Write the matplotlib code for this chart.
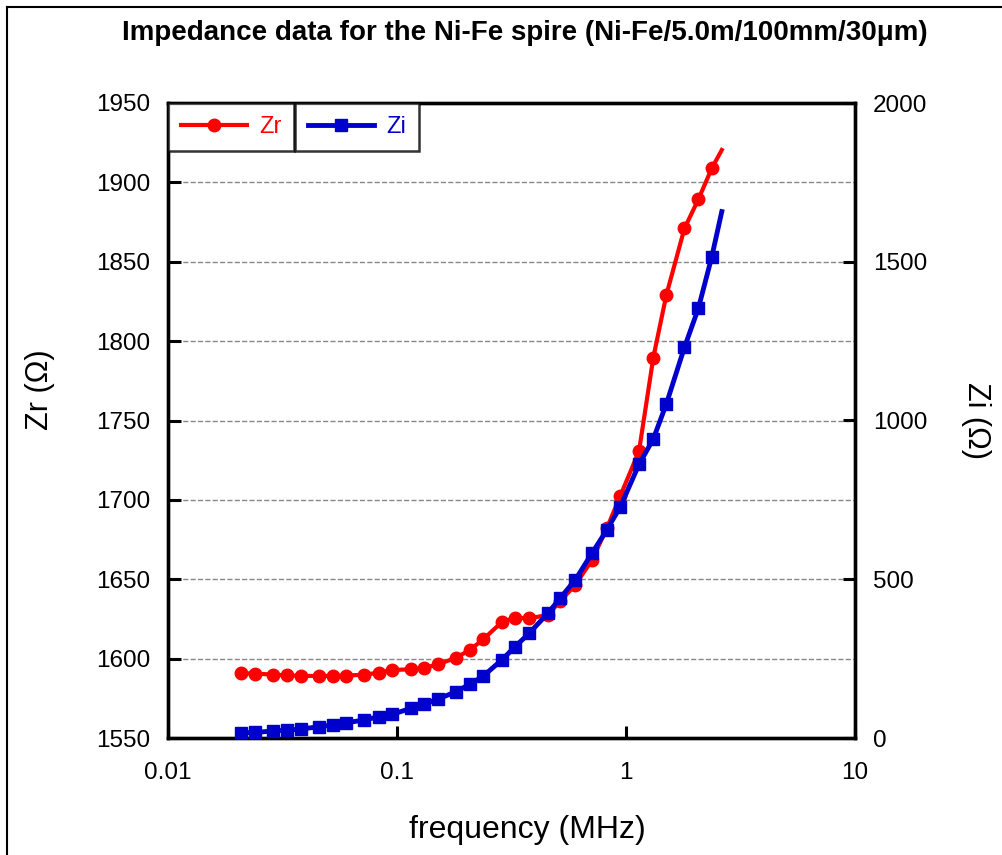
import matplotlib
matplotlib.use('Agg')
import matplotlib.pyplot as plt
from matplotlib.lines import Line2D
from matplotlib.ticker import FixedLocator, NullLocator, FixedFormatter

plt.rcParams['font.family'] = ['Liberation Sans', 'DejaVu Sans']

# frequency (MHz), last point is the curve end (no marker)
freq = [0.0208, 0.024, 0.0288, 0.0332, 0.038, 0.0456, 0.0527, 0.06, 0.072, 0.0832,
        0.0954, 0.115, 0.131, 0.1515, 0.181, 0.208, 0.238, 0.287, 0.328, 0.378,
        0.456, 0.515, 0.6, 0.71, 0.824, 0.945, 1.14, 1.316, 1.5, 1.8,
        2.07, 2.37, 2.62]
zr = [1590.8, 1590.6, 1589.9, 1589.5, 1589.1, 1589.1, 1589.1, 1589.3, 1589.9, 1591.1,
      1592.8, 1593.3, 1594.1, 1596.4, 1600.6, 1605.4, 1612.2, 1623.0, 1625.8, 1625.4,
      1627.5, 1636.0, 1646.4, 1662.0, 1682.0, 1702.6, 1730.8, 1789.6, 1829.0, 1871.0,
      1889.3, 1908.9, 1920.4]
zi = [16.7, 17.5, 22, 25, 28, 35.6, 41, 48, 56.7, 67,
      74.6, 93.5, 106, 123, 146, 169, 195, 246, 288, 330,
      393, 440, 497.6, 581.7, 655, 728.6, 862, 941.7, 1052, 1230.5,
      1353, 1516, 1658]

zr_ticks = [1550, 1600, 1650, 1700, 1750, 1800, 1850, 1900, 1950]
zi_ticks = [0, 500, 1000, 1500, 2000]
x_ticks = [0.01, 0.1, 1, 10]
x_labels = ['0.01', '0.1', '1', '10']

fig = plt.figure(figsize=(10.02, 8.55), dpi=100)
ax = fig.add_axes([168/1002, 1-738/855, (855-168)/1002, (738-103)/855])
ax2 = ax.twinx()

nmark = list(range(len(freq) - 1))
ax.plot(freq, zr, color='#ff0000', lw=3, marker='o', ms=9, markevery=nmark, zorder=3)
ax2.plot(freq, zi, color='#0000cc', lw=3.5, marker='s', ms=8.5, markevery=nmark, zorder=3)

ax.set_xscale('log')
ax.set_xlim(0.01, 10)
ax.set_ylim(1550, 1950)
ax2.set_ylim(0, 2000)

ax.xaxis.set_major_locator(FixedLocator(x_ticks))
ax.xaxis.set_major_formatter(FixedFormatter(x_labels))
ax.xaxis.set_minor_locator(NullLocator())
ax.set_yticks(zr_ticks)
ax2.set_yticks(zi_ticks)

for a in (ax, ax2):
    a.tick_params(direction='in', length=9, width=2.2, labelsize=17.5)
    for s in a.spines.values():
        s.set_linewidth(2.4)
ax.tick_params(axis='x', pad=17)
ax.tick_params(axis='y', pad=13)
ax2.tick_params(axis='y', pad=13)

ax.grid(axis='y', color='#888888', ls='--', lw=1)
ax.set_axisbelow(True)

fig.text(527/1002, 1-830/855, 'frequency (MHz)', ha='center', va='center', fontsize=23)
fig.text(40/1002, 1-390/855, 'Zr (\u03a9)', rotation=90, ha='center', va='center', fontsize=22)
fig.text(976/1002, 1-420/855, 'Zi (\u03a9)', rotation=-90, ha='center', va='center', fontsize=22)

fig.text(525/1002, 1-33/855, 'Impedance data for the Ni-Fe spire (Ni-Fe/5.0m/100mm/30\u03bcm)',
         ha='center', va='center', fontsize=20, fontweight='bold')

# two boxed legend cells
h1 = Line2D([], [], color='#ff0000', lw=3, marker='o', ms=9)
h2 = Line2D([], [], color='#0000cc', lw=3.5, marker='s', ms=8.5)
leg1 = ax2.legend([h1], ['Zr'], loc='upper left', bbox_to_anchor=(0, 1), fontsize=17,
                  frameon=True, fancybox=False, edgecolor='black', labelcolor='linecolor',
                  borderaxespad=0, handlelength=2.8, borderpad=0.55, handletextpad=0.5)
leg1.get_frame().set_linewidth(1.8)
ax2.add_artist(leg1)
leg2 = ax2.legend([h2], ['Zi'], loc='upper left', bbox_to_anchor=((295-168)/687, 1), fontsize=17,
                  frameon=True, fancybox=False, edgecolor='black', labelcolor='linecolor',
                  borderaxespad=0, handlelength=2.8, borderpad=0.55, handletextpad=0.5)
leg2.get_frame().set_linewidth(1.8)

# page border on left and top
fig.add_artist(Line2D([7/1002, 7/1002], [0, 1-7/855], transform=fig.transFigure, color='black', lw=1.5))
fig.add_artist(Line2D([7/1002, 1], [1-7/855, 1-7/855], transform=fig.transFigure, color='black', lw=1.5))

fig.savefig('out.png', dpi=100, facecolor='white')
